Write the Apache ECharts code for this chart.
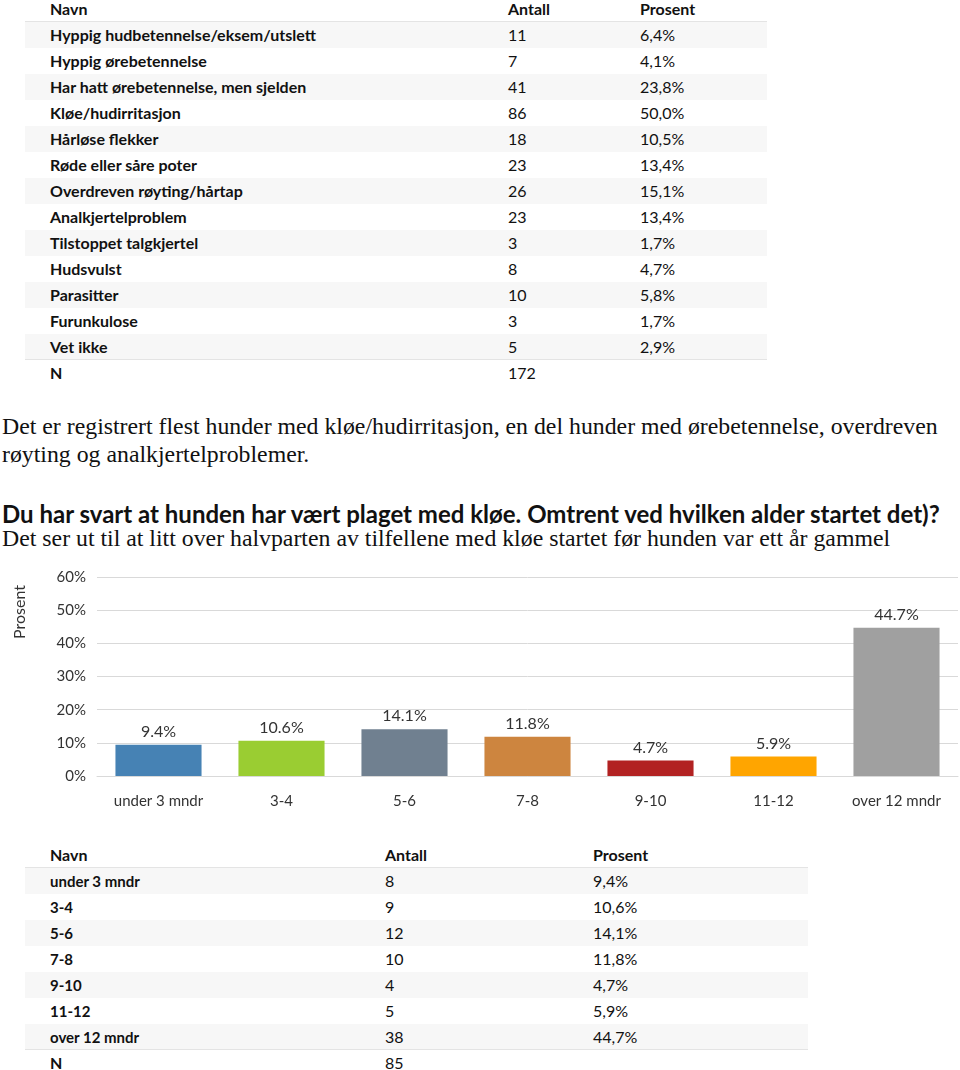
<!DOCTYPE html>
<html><head><meta charset="utf-8">
<script src="https://cdn.jsdelivr.net/npm/echarts@6/dist/echarts.min.js"></script>
<style>
body{margin:0;background:#fff;width:960px;height:1070px;position:relative;overflow:hidden;font-family:Lato,"Open Sans",sans-serif;color:#111;}
.tbl{position:absolute;left:25px;}
.row{position:relative;height:26px;line-height:26px;font-size:16px;}
.row.shade{background:#f7f7f7;}
.row.line{border-bottom:1px solid #e4e4e4;box-sizing:border-box;}
.row span{position:absolute;top:0;white-space:nowrap;}
.p{position:absolute;left:2px;font-family:"Liberation Serif","Times New Roman",serif;font-size:23.8px;color:#111;white-space:nowrap;}
.h{position:absolute;left:2px;font-family:Lato,"Open Sans",sans-serif;font-weight:bold;font-size:24px;color:#111;white-space:nowrap;}
#chart{position:absolute;left:0;top:560px;width:960px;height:260px;}
</style></head><body>
<div id="t1" class="tbl" style="top:-4px;width:742px;"></div>
<div class="p" style="top:413px;">Det er registrert flest hunder med kløe/hudirritasjon, en del hunder med ørebetennelse, overdreven</div>
<div class="p" style="top:441px;">røyting og analkjertelproblemer.</div>
<div class="h" style="top:499px;">Du har svart at hunden har vært plaget med kløe. Omtrent ved hvilken alder startet det)?</div>
<div class="p" style="top:525px;">Det ser ut til at litt over halvparten av tilfellene med kløe startet før hunden var ett år gammel</div>
<div id="chart"></div>
<div id="t2" class="tbl" style="top:842px;width:783px;"></div>
<script>
const t1Names = ["Hyppig hudbetennelse/eksem/utslett","Hyppig ørebetennelse","Har hatt ørebetennelse, men sjelden","Kløe/hudirritasjon","Hårløse flekker","Røde eller såre poter","Overdreven røyting/hårtap","Analkjertelproblem","Tilstoppet talgkjertel","Hudsvulst","Parasitter","Furunkulose","Vet ikke"];
const t1Counts = [11,7,41,86,18,23,26,23,3,8,10,3,5];
const t1Pct = ["6,4%","4,1%","23,8%","50,0%","10,5%","13,4%","15,1%","13,4%","1,7%","4,7%","5,8%","1,7%","2,9%"];
const t1N = 172;

const ageCats = ["under 3 mndr","3-4","5-6","7-8","9-10","11-12","over 12 mndr"];
const ageCounts = [8,9,12,10,4,5,38];
const agePct = [9.4,10.6,14.1,11.8,4.7,5.9,44.7];
const ageN = 85;
const barColors = ["#4682B4","#9ACD32","#708090","#CD853F","#B22222","#FFA500","#A0A0A0"];

function buildTable(el, names, counts, pcts, n, cols, nameSize){
  const mk = (cls, a, b, c, head) => {
    const d = document.createElement('div');
    d.className = 'row ' + cls;
    d.innerHTML = `<span style="left:${cols[0]}px;font-weight:bold;${head?'':'font-size:'+nameSize+'px'}">${a}</span>`+
      `<span style="left:${cols[1]}px;${head?'font-weight:bold':''}">${b}</span>`+
      `<span style="left:${cols[2]}px;${head?'font-weight:bold':''}">${c}</span>`;
    el.appendChild(d);
  };
  mk('line','Navn','Antall','Prosent',true);
  names.forEach((nm,i)=>{
    let cls = i%2===0 ? 'shade' : '';
    if(i===names.length-1) cls += ' line';
    mk(cls, nm, counts[i], pcts[i], false);
  });
  const d = document.createElement('div');
  d.className='row';
  d.innerHTML = `<span style="left:${cols[0]}px;font-weight:bold">N</span><span style="left:${cols[1]}px">${n}</span>`;
  el.appendChild(d);
}
buildTable(document.getElementById('t1'), t1Names, t1Counts, t1Pct, t1N, [25,483,615], 16);
buildTable(document.getElementById('t2'), ageCats, ageCounts, agePct.map(v=>v.toFixed(1).replace('.',',')+'%'), ageN, [25,360,568], 15);

const chart = echarts.init(document.getElementById('chart'));
const font = 'Lato, sans-serif';
chart.setOption({
  animation:false,
  grid:{left:97,right:2,top:17,bottom:44},
  graphic:[{type:'text',left:12,top:25,rotation:Math.PI/2,
    style:{text:'Prosent',fill:'#333',font:'16px '+font}}],
  xAxis:{type:'category',data:ageCats,
    axisLine:{lineStyle:{color:'#d9d9d9'}},axisTick:{show:false},
    axisLabel:{color:'#333',fontSize:15,margin:18,fontFamily:font}},
  yAxis:{type:'value',min:0,max:60,interval:10,
    axisLabel:{formatter:'{value}%',color:'#333',fontSize:15,margin:11,fontFamily:font},
    splitLine:{lineStyle:{color:'#d9d9d9'}}},
  series:[{type:'bar',barWidth:'70%',
    data:agePct.map((v,i)=>({value:v,itemStyle:{color:barColors[i]}})),
    label:{show:true,position:'top',distance:5,color:'#333',fontSize:16,fontFamily:font,formatter:p=>p.value.toFixed(1)+'%'}}]
});
</script>
</body></html>
